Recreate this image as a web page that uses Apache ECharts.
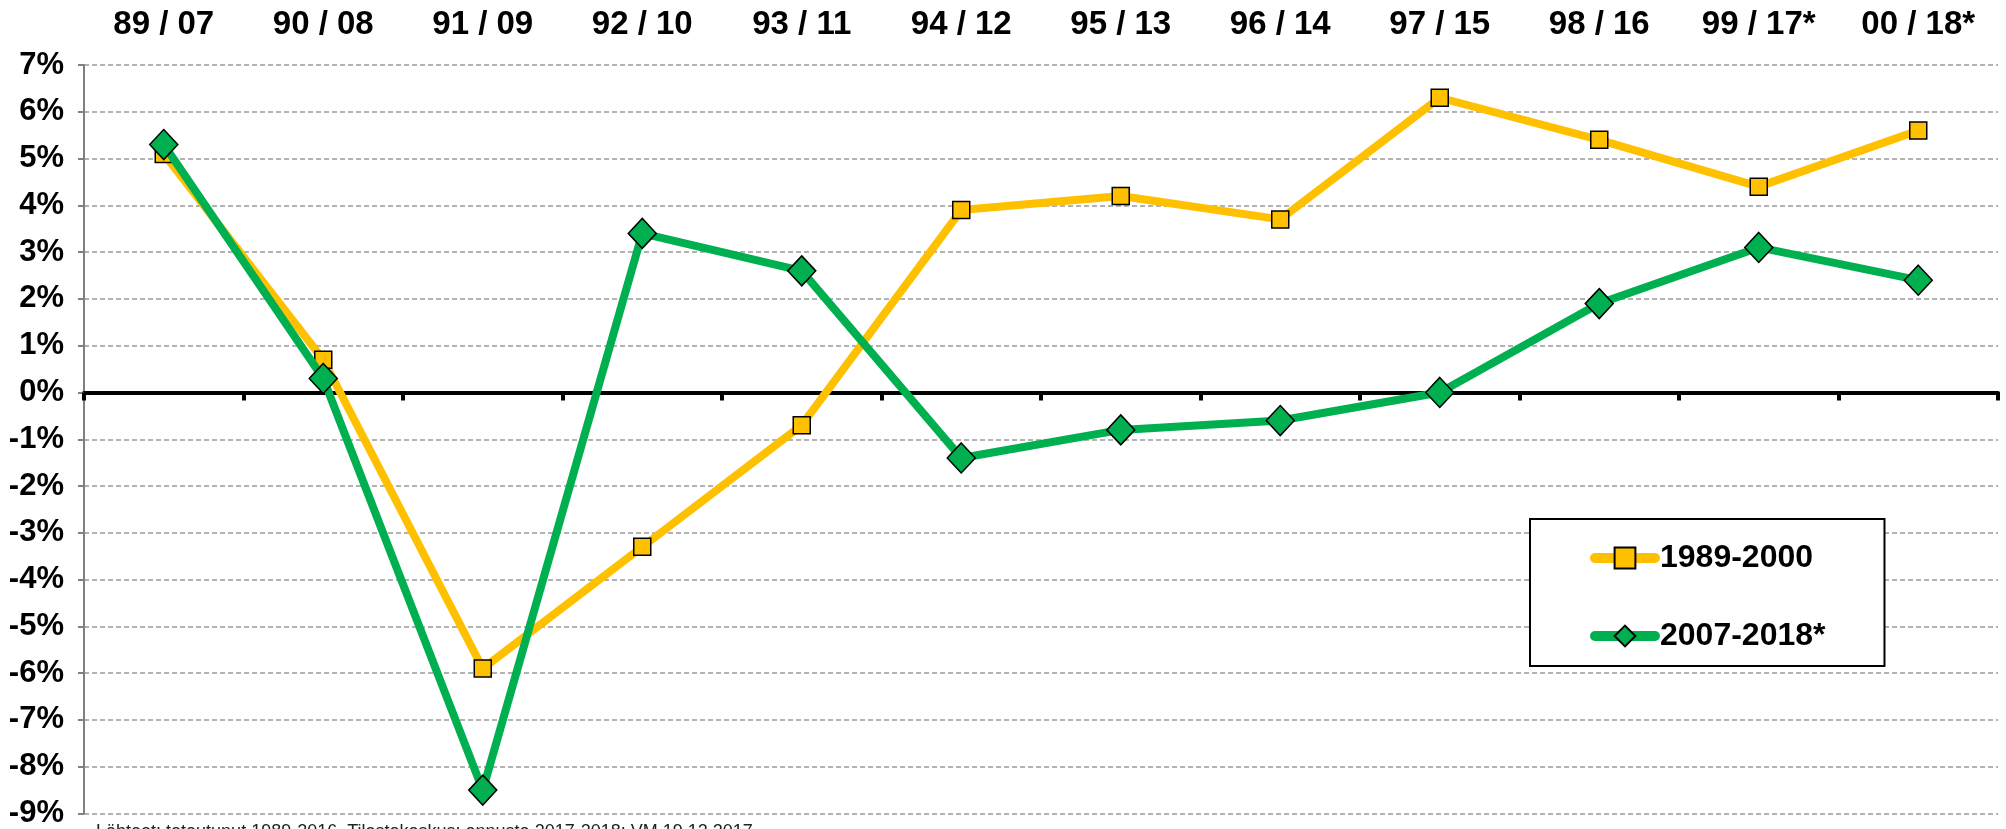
<!DOCTYPE html>
<html>
<head>
<meta charset="utf-8">
<script src="https://cdn.jsdelivr.net/npm/echarts@6/dist/echarts.min.js"></script>
<style>
  html, body { margin: 0; padding: 0; background: #fff; }
  #main { width: 2006px; height: 829px; }
</style>
</head>
<body>
<div id="main"></div>
<script type="text/javascript">

var categories = ['89 / 07', '90 / 08', '91 / 09', '92 / 10', '93 / 11', '94 / 12',
                  '95 / 13', '96 / 14', '97 / 15', '98 / 16', '99 / 17*', '00 / 18*'];

var seriesNames = ['1989-2000', '2007-2018*'];

// vuosimuutos, %
var data8900 = [5.1, 0.7, -5.9, -3.3, -0.7, 3.9, 4.2, 3.7, 6.3, 5.4, 4.4, 5.6];
var data0718 = [5.3, 0.3, -8.5, 3.4, 2.6, -1.4, -0.8, -0.6, 0.0, 1.9, 3.1, 2.4];

var yMin = -9, yMax = 7, yStep = 1;

var footnote = 'Lähteet: toteutunut 1989-2016, Tilastokeskus; ennuste 2017-2018: VM 19.12.2017';

var font = "'Liberation Sans', Arial, sans-serif";

var myChart = echarts.init(document.getElementById('main'));

var option = {
    animation: false,
    textStyle: { fontFamily: font },
    grid: {
        left: 84,
        right: 8,
        top: 65,
        bottom: 13
    },
    legend: {
        data: seriesNames,
        orient: 'vertical',
        left: 1530,
        top: 519,
        padding: [23, 59, 14, 60],
        itemGap: 46,
        itemWidth: 60,
        itemHeight: 26,
        backgroundColor: '#fff',
        borderColor: '#000',
        borderWidth: 2,
        lineStyle: { width: 10, cap: 'round' },
        textStyle: {
            fontFamily: font,
            fontSize: 32,
            fontWeight: 'bold',
            color: '#000',
            lineHeight: 32
        }
    },
    xAxis: [
        {
            type: 'category',
            position: 'top',
            data: categories,
            boundaryGap: true,
            axisLine: { show: false, onZero: false },
            axisTick: { show: false },
            axisLabel: {
                margin: 24,
                fontFamily: font,
                fontSize: 33,
                fontWeight: 'bold',
                color: '#000',
                lineHeight: 33
            },
            splitLine: { show: false }
        },
        {
            type: 'category',
            position: 'bottom',
            data: categories,
            boundaryGap: true,
            axisLine: { show: true, onZero: true, lineStyle: { color: '#000', width: 4 } },
            axisTick: { show: true, length: 8, lineStyle: { color: '#000', width: 4 } },
            axisLabel: { show: false },
            splitLine: { show: false }
        }
    ],
    yAxis: {
        type: 'value',
        min: yMin,
        max: yMax,
        interval: yStep,
        axisLine: { show: true, lineStyle: { color: '#808080', width: 2 } },
        axisTick: { show: true, length: 6, lineStyle: { color: '#808080', width: 2 } },
        axisLabel: {
            margin: 20,
            formatter: '{value}%',
            fontFamily: font,
            fontSize: 31,
            fontWeight: 'bold',
            color: '#000'
        },
        splitLine: {
            show: true,
            lineStyle: { color: '#999', width: 1.5, type: [5, 3] }
        }
    },
    graphic: [
        {
            type: 'text',
            left: 96,
            top: 823,
            style: {
                text: footnote,
                fontFamily: font,
                fontSize: 18,
                fill: '#222'
            }
        }
    ],
    series: [
        {
            name: seriesNames[0],
            type: 'line',
            xAxisIndex: 0,
            data: data8900,
            symbol: 'rect',
            symbolSize: 17,
            lineStyle: { color: '#FFC000', width: 8 },
            itemStyle: { color: '#FFC000', borderColor: '#000', borderWidth: 1.5 },
            emphasis: { disabled: true },
            z: 3
        },
        {
            name: seriesNames[1],
            type: 'line',
            xAxisIndex: 0,
            data: data0718,
            symbol: 'diamond',
            symbolSize: [28, 30],
            lineStyle: { color: '#00B050', width: 8 },
            itemStyle: { color: '#00B050', borderColor: '#000', borderWidth: 1.5 },
            emphasis: { disabled: true },
            z: 4
        }
    ]
};

myChart.setOption(option);

</script>
</body>
</html>
